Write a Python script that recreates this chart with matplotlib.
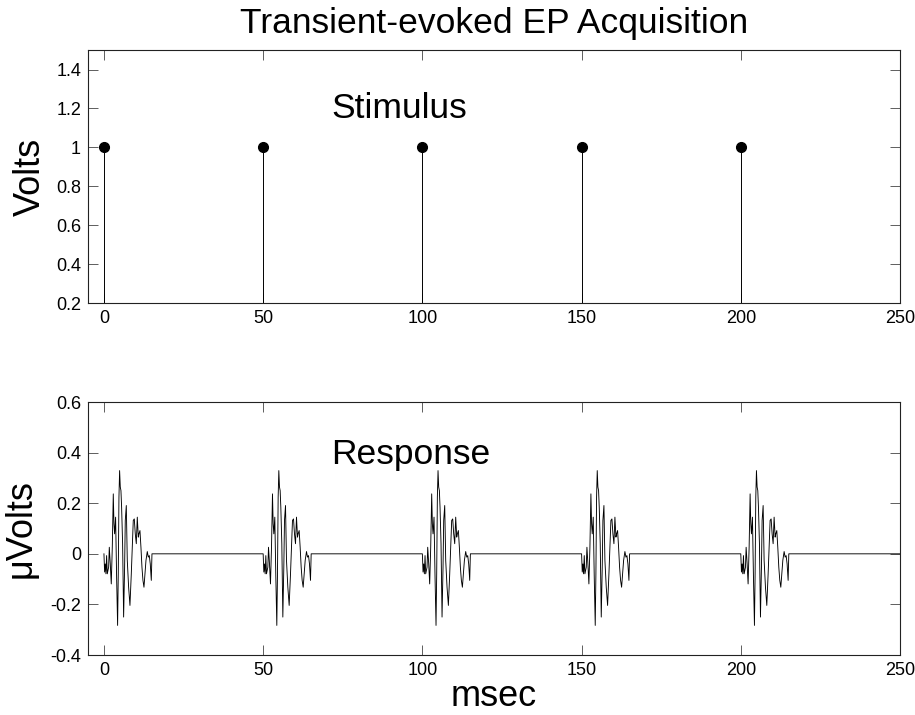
import numpy as np
import matplotlib
matplotlib.use("Agg")
import matplotlib.pyplot as plt

plt.rcParams['font.family'] = ['Liberation Sans', 'DejaVu Sans']

# Stimulus pulses (ms, V)
stim_times = [0, 50, 100, 150, 200]
stim_volts = [1, 1, 1, 1, 1]

# One evoked-response burst, time relative to stimulus onset (ms) and amplitude (uV)
burst_t = [0.0, 0.21, 0.42, 0.63, 0.84, 1.05, 1.47, 1.68, 1.99, 2.30, 2.62, 2.93,
           3.14, 3.35, 3.66, 3.98, 4.29, 4.50, 4.71, 4.92, 5.13, 5.34, 5.55, 5.86,
           6.18, 6.49, 6.70, 7.02, 7.33, 7.75, 8.17, 8.59, 8.90, 9.21, 9.53, 9.84,
           10.16, 10.47, 10.79, 10.99, 11.31, 11.62, 11.94, 12.25, 12.57, 12.88,
           13.20, 13.61, 13.93, 14.24, 14.55, 14.87, 15.08]
burst_v = [0.0, -0.072, -0.040, -0.079, -0.007, -0.079, -0.053, 0.026, -0.040,
           -0.119, 0.026, 0.237, 0.119, 0.079, 0.145, -0.092, -0.283, -0.079,
           0.224, 0.329, 0.264, 0.250, 0.184, 0.040, -0.250, -0.053, 0.132, 0.191,
           -0.026, -0.132, -0.204, -0.079, 0.026, 0.132, 0.138, 0.079, 0.040,
           0.145, 0.066, 0.079, 0.092, 0.026, -0.053, -0.105, -0.132, -0.079,
           -0.026, 0.009, -0.013, -0.007, -0.040, -0.105, 0.0]
record_end = 250

x_ticks = [0, 50, 100, 150, 200, 250]
stim_yticks = [0.2, 0.4, 0.6, 0.8, 1.0, 1.2, 1.4]
resp_yticks = [-0.4, -0.2, 0, 0.2, 0.4, 0.6]

# Build the continuous response trace: a burst after each stimulus, flat otherwise
resp_t, resp_v = [], []
for s in stim_times:
    resp_t.extend([s + t for t in burst_t])
    resp_v.extend(burst_v)
resp_t.append(record_end)
resp_v.append(0.0)

fig = plt.figure(figsize=(9.15, 7.15), dpi=100)
ax1 = fig.add_axes([0.0962, 0.5762, 0.8874, 0.3538])
ax2 = fig.add_axes([0.0962, 0.0839, 0.8874, 0.3538])


def style(ax):
    ax.tick_params(direction='in', length=7, width=0.6, top=True, right=True,
                   labelsize=13, pad=5, color='#444444')
    for sp in ax.spines.values():
        sp.set_linewidth(0.8)
        sp.set_color('#222222')
    ax.set_xlim(-5, 250)
    ax.set_xticks(x_ticks)
    ax.set_xticklabels([str(v) for v in x_ticks])


# Stimulus stems
ax1.vlines(stim_times, 0, stim_volts, colors='black', linewidth=0.7)
ax1.plot(stim_times, stim_volts, 'o', color='black', markersize=7)
ax1.set_ylim(0.2, 1.5)
ax1.set_yticks(stim_yticks)
ax1.set_yticklabels(['0.2', '0.4', '0.6', '0.8', '1', '1.2', '1.4'])
style(ax1)
ax1.set_ylabel('Volts', fontsize=26)
ax1.yaxis.set_label_coords(-0.049, 0.5)
ax1.text(71.5, 1.15, 'Stimulus', fontsize=25.5, ha='left', va='baseline')
ax1.set_title('Transient-evoked EP Acquisition', fontsize=25.5, pad=12)

# Response trace
ax2.plot(resp_t, resp_v, color='black', linewidth=0.65)
ax2.set_ylim(-0.4, 0.6)
ax2.set_yticks(resp_yticks)
ax2.set_yticklabels(['-0.4', '-0.2', '0', '0.2', '0.4', '0.6'])
style(ax2)
ax2.set_ylabel('\u03bcVolts', fontsize=26)
ax2.yaxis.set_label_coords(-0.061, 0.5)
ax2.set_xlabel('msec', fontsize=26, labelpad=0)
ax2.text(71.5, 0.356, 'Response', fontsize=25.5, ha='left', va='baseline')

fig.savefig('out.png', dpi=100)
